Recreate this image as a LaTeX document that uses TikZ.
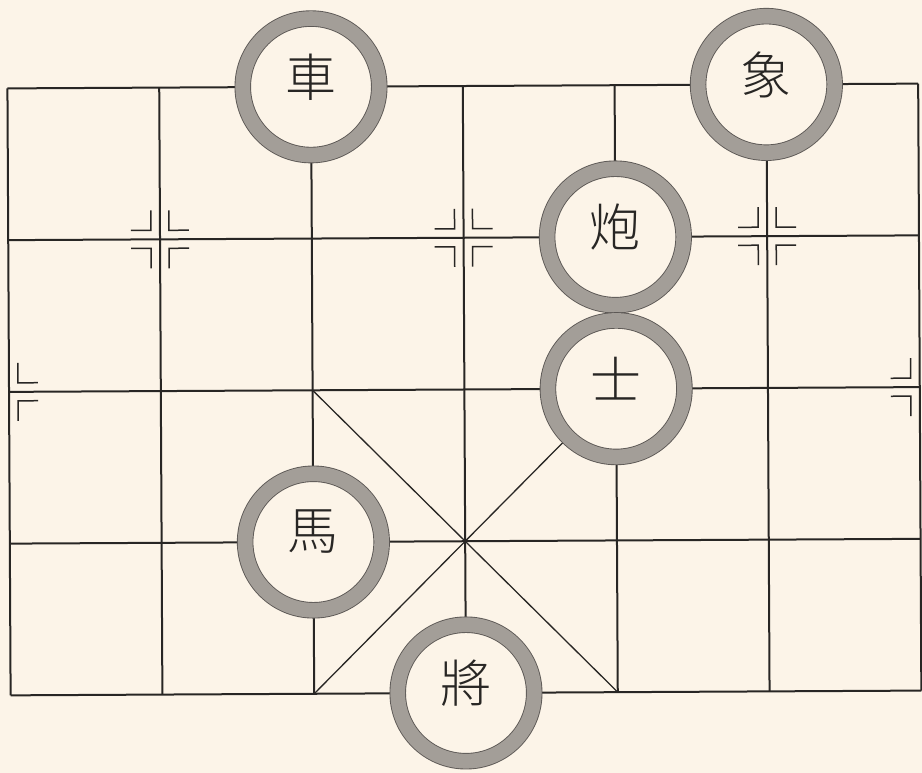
\documentclass[tikz,border=0pt]{standalone}
\usepackage{fontspec}
\newfontfamily\cjk{Noto Sans CJK TC Light}
\definecolor{paper}{RGB}{252,244,232}
\definecolor{ink}{RGB}{40,38,36}
\definecolor{ringfill}{RGB}{163,158,152}
\definecolor{ringedge}{RGB}{92,88,85}
\newcommand\mymark[3]{\foreach \sx/\sy in {#3}{\draw[starmark] ($(#1)+({\sx*9},{\sy*29})$) -- ($(#1)+({\sx*9},{\sy*9})$) -- ($(#1)+({\sx*29},{\sy*9})$);}}
\newcommand\pc[1]{\raisebox{10pt}[\height][\depth]{#1}}
\usetikzlibrary{calc}
\begin{document}
\begin{tikzpicture}[x=1pt,y=-1pt,
  gridline/.style={ink, line width=2pt},
  diagline/.style={ink, line width=1.3pt},
  starmark/.style={ink, line width=1.5pt},
  piece/.style={circle, minimum size=136.5pt, inner sep=0pt, fill=paper,
    draw=ringedge, line width=0.9pt, double=ringfill, double distance=14.7pt,
    text=ink, font=\cjk\fontsize{51}{51}\selectfont}]
\fill[paper] (0,0) rectangle (922,773);
\useasboundingbox (0,0) rectangle (922,773);
\def\cs{151.8}
\begin{scope}[rotate around={0.3:(465,390)}]
\foreach \i in {0,...,6}{\foreach \j in {0,...,4}{
  \coordinate (p-\i-\j) at ({9+\i*\cs},{86+\j*\cs*0.99967});}}
% grid
\foreach \j in {0,...,4}{\draw[gridline] (p-0-\j) -- (p-6-\j);}
\foreach \i in {0,...,6}{\draw[gridline] (p-\i-0) -- (p-\i-4);}
% palace diagonals
\draw[diagline] (p-2-2) -- (p-4-4);
\draw[diagline] (p-2-4) -- (p-4-2);
% position marks
\mymark{p-1-1}{}{-1/-1,1/-1,-1/1,1/1}
\mymark{p-3-1}{}{-1/-1,1/-1,-1/1,1/1}
\mymark{p-5-1}{}{-1/-1,1/-1,-1/1,1/1}
\mymark{p-0-2}{}{1/-1,1/1}
\mymark{p-6-2}{}{-1/-1,-1/1}
% pieces
\node[piece] (che) at (p-2-0) {\pc{車}};
\node[piece] (xiang) at (p-5-0) {\pc{象}};
\node[piece] (pao) at (p-4-1) {\pc{炮}};
\node[piece] (shi) at (p-4-2) {\pc{士}};
\node[piece] (ma) at (p-2-3) {\pc{馬}};
\node[piece] (jiang) at (p-3-4) {\pc{將}};
\end{scope}
\end{tikzpicture}
\end{document}
